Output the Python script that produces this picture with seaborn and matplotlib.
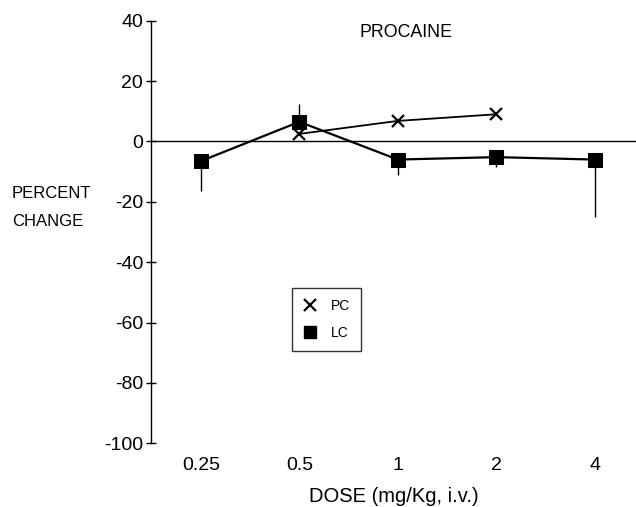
import matplotlib
matplotlib.use("Agg")
import matplotlib.pyplot as plt
from matplotlib.lines import Line2D
import seaborn as sns
import pandas as pd

doses = ["0.25", "0.5", "1", "2", "4"]
lc_values = [-6.5, 6.5, -6.0, -5.2, -6.0]
lc_err_low = [10.0, 0.0, 5.0, 3.3, 19.0]
lc_err_high = [0.0, 6.0, 0.0, 0.0, 0.0]
pc_doses = ["0.5", "1", "2"]
pc_values = [2.5, 6.8, 9.0]

sns.set_theme(style="white")
plt.rcParams["font.family"] = ["Liberation Sans", "DejaVu Sans"]
plt.rcParams["text.color"] = "black"
plt.rcParams["axes.labelcolor"] = "black"
plt.rcParams["xtick.color"] = "black"
plt.rcParams["ytick.color"] = "black"

fig = plt.figure(figsize=(6.36, 5.07), dpi=100)
ax = fig.add_axes([0.237, 0.1256, 0.763, 0.8336])

pos = {d: i for i, d in enumerate(doses)}
lc_df = pd.DataFrame({"x": [pos[d] for d in doses], "y": lc_values})
pc_df = pd.DataFrame({"x": [pos[d] for d in pc_doses], "y": pc_values})

ax.axhline(0, color="black", lw=1.0, zorder=1)

# error bars (one-sided)
for xi, yv, lo, hi in zip(lc_df["x"], lc_values, lc_err_low, lc_err_high):
    ax.vlines(xi, yv - lo, yv + hi, color="black", lw=1.0, zorder=2)

sns.lineplot(data=lc_df, x="x", y="y", ax=ax, color="black", lw=1.6,
             marker="s", markersize=10, markeredgecolor="black",
             markerfacecolor="black", zorder=3)
sns.lineplot(data=pc_df, x="x", y="y", ax=ax, color="black", lw=1.3,
             marker="x", markersize=9, markeredgewidth=1.6,
             markeredgecolor="black", zorder=4)

ax.set_xlim(-0.51, 4.42)
ax.set_ylim(-100, 40)
ax.set_xticks(range(len(doses)))
ax.set_xticklabels(doses)
ax.set_yticks([40, 20, 0, -20, -40, -60, -80, -100])
ax.set_yticklabels(["40", "20", "0", "-20", "-40", "-60", "-80", "-100"])
ax.tick_params(axis="x", length=0, pad=10, labelsize=14)
ax.tick_params(axis="y", direction="inout", length=7, width=1, left=True,
               labelsize=14, pad=2)
for s in ["top", "right", "bottom"]:
    ax.spines[s].set_visible(False)
ax.spines["left"].set_color("black")
ax.spines["left"].set_linewidth(1.0)
ax.set_xlabel("DOSE (mg/Kg, i.v.)", fontsize=14.5, labelpad=9)
ax.set_ylabel("")

ax.text(2.08, 36, "PROCAINE", ha="center", va="center", fontsize=12.8)
fig.text(12 / 636, 1 - 193 / 507, "PERCENT", ha="left", va="center", fontsize=12)
fig.text(12 / 636, 1 - 221 / 507, "CHANGE", ha="left", va="center", fontsize=12)

handles = [
    Line2D([], [], color="black", marker="x", linestyle="none",
           markersize=8, markeredgewidth=1.6),
    Line2D([], [], color="black", marker="s", linestyle="none",
           markersize=9),
]
leg = ax.legend(handles, ["PC", "LC"], loc="upper left",
                bbox_to_anchor=(292 / 636, 1 - 288 / 507),
                bbox_transform=fig.transFigure, frameon=True,
                fancybox=False, fontsize=10, handlelength=1.0,
                handletextpad=1.0, borderpad=0.8, labelspacing=0.9,
                borderaxespad=0)
leg.get_frame().set_edgecolor("black")
leg.get_frame().set_linewidth(1.0)

fig.savefig("out.png", dpi=100)
